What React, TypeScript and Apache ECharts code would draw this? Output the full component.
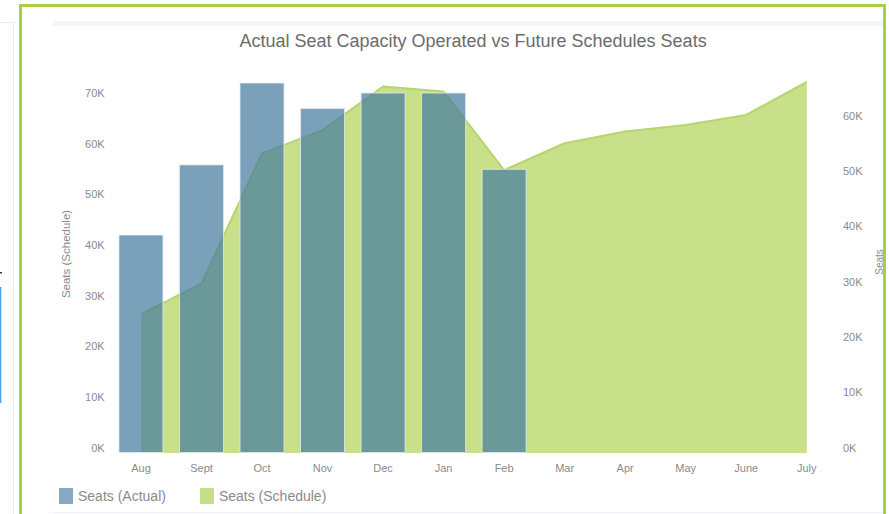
import React, { useEffect, useRef } from "react";
import * as echarts from "echarts";

const months = ["Aug", "Sept", "Oct", "Nov", "Dec", "Jan", "Feb", "Mar", "Apr", "May", "June", "July"];
const seatsActual = [39500, 52200, 67000, 62400, 65200, 65200, 51400, null, null, null, null, null];
const seatsSchedule = [27400, 33500, 59200, 63800, 72400, 71400, 55900, 61200, 63500, 64800, 66800, 73300];
const titleText = "Actual Seat Capacity Operated vs Future Schedules Seats";
const leftAxisName = "Seats (Schedule)";
const rightAxisName = "Seats";

const FONT = "Liberation Sans, Arial, sans-serif";

export default function App() {
  const ref = useRef<HTMLDivElement>(null);
  useEffect(() => {
    if (!ref.current) return;
    const chart = echarts.init(ref.current, undefined, { renderer: "svg" });
    const kFmt = (v: number) => (v % 10000 === 0 ? v / 1000 + "K" : "");
    chart.setOption({
      animation: false,
      backgroundColor: "#ffffff",
      textStyle: { fontFamily: FONT },
      title: {
        text: titleText,
        left: 473,
        top: 32,
        padding: 0,
        textAlign: "center",
        textStyle: { fontFamily: FONT, fontSize: 18, fontWeight: "normal", color: "#6b6b6b" },
      },
      legend: {
        left: 59,
        top: 488,
        padding: 0,
        icon: "rect",
        itemWidth: 14,
        itemHeight: 16,
        itemGap: 34,
        textStyle: { fontFamily: FONT, fontSize: 14, color: "#8a8a8a" },
        data: [
          { name: "Seats (Actual)", itemStyle: { color: "#86a8c1", borderWidth: 0 } },
          { name: "Seats (Schedule)", itemStyle: { color: "#c6df84", borderWidth: 0 }, lineStyle: { opacity: 0 } },
        ],
      },
      grid: { left: 110.7, right: 52, top: 82, bottom: 61, containLabel: false },
      xAxis: {
        type: "category",
        data: months,
        boundaryGap: true,
        axisLine: { show: false },
        axisTick: { show: false },
        splitLine: { show: false },
        axisLabel: { color: "#8a8a8a", fontSize: 11, fontFamily: FONT, margin: 9 },
      },
      yAxis: [
        {
          type: "value",
          min: 0,
          max: 73300,
          interval: 10000,
          axisLine: { show: false },
          axisTick: { show: false },
          splitLine: { show: false },
          axisLabel: {
            formatter: kFmt,
            showMaxLabel: false,
            color: "#8a8a8a",
            fontSize: 11,
            fontFamily: FONT,
            margin: 6,
            verticalAlign: "bottom",
          },
        },
        {
          type: "value",
          min: 0,
          max: 67100,
          interval: 10000,
          position: "right",
          axisLine: { show: false },
          axisTick: { show: false },
          splitLine: { show: false },
          axisLabel: {
            formatter: kFmt,
            showMaxLabel: false,
            color: "#8a8a8a",
            fontSize: 11,
            fontFamily: FONT,
            margin: 6,
            verticalAlign: "bottom",
          },
        },
      ],
      series: [
        {
          name: "Seats (Schedule)",
          type: "line",
          yAxisIndex: 0,
          data: seatsSchedule,
          symbol: "none",
          z: 1,
          itemStyle: { color: "#c6df84" },
          lineStyle: { color: "#b6d56c", width: 2 },
          areaStyle: { color: "#c8e089", opacity: 1 },
        },
        {
          name: "Seats (Actual)",
          type: "bar",
          yAxisIndex: 1,
          data: seatsActual,
          barWidth: 45,
          z: 3,
          itemStyle: {
            color: "rgba(70,123,159,0.72)",
            borderColor: "rgba(225,235,242,0.8)",
            borderWidth: 1,
          },
        },
      ],
      graphic: [
        { type: "rect", z: 50, shape: { x: 53, y: 21, width: 830, height: 5 }, style: { fill: "#f2f5f9" } },
        { type: "line", z: 50, shape: { x1: 53, y1: 512.5, x2: 883, y2: 512.5 }, style: { stroke: "#eef1f5", lineWidth: 1 } },
        { type: "line", z: 50, shape: { x1: 0, y1: 22.5, x2: 13, y2: 22.5 }, style: { stroke: "#e6ebf1", lineWidth: 1 } },
        { type: "line", z: 50, shape: { x1: 13.5, y1: 22, x2: 13.5, y2: 514 }, style: { stroke: "#e6ebf1", lineWidth: 1 } },
        { type: "line", z: 50, shape: { x1: 0.5, y1: 287, x2: 0.5, y2: 403 }, style: { stroke: "#4a9fe8", lineWidth: 1.5 } },
        { type: "rect", z: 50, shape: { x: 0, y: 272, width: 2, height: 1.5 }, style: { fill: "#333" } },
        {
          type: "text",
          z: 50,
          x: 66,
          y: 254,
          rotation: Math.PI / 2,
          style: {
            text: leftAxisName,
            fill: "#8a8a8a",
            font: "11.5px " + FONT,
            textAlign: "center",
            textVerticalAlign: "middle",
          },
        },
        {
          type: "text",
          z: 50,
          x: 879,
          y: 262,
          rotation: Math.PI / 2,
          style: {
            text: rightAxisName,
            fill: "#8a8a8a",
            font: "10px " + FONT,
            textAlign: "center",
            textVerticalAlign: "middle",
          },
        },
        {
          type: "rect",
          z: 100,
          shape: { x: 20.5, y: 5.5, width: 864, height: 530 },
          style: { fill: "none", stroke: "#a8cf45", lineWidth: 3 },
        },
      ],
    });
    return () => chart.dispose();
  }, []);
  return (
    <div
      ref={ref}
      style={{ position: "fixed", left: 0, top: 0, width: 889, height: 514, background: "#fff" }}
    />
  );
}
